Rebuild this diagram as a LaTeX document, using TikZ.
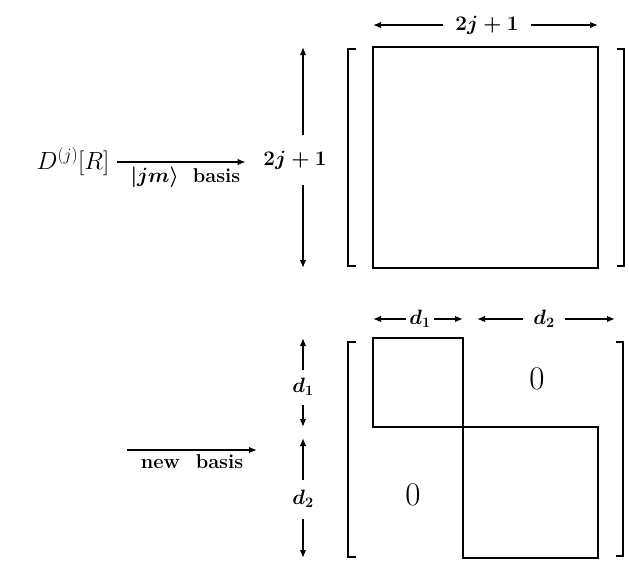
\documentclass[tikz,border=0pt]{standalone}
\usepackage{amsmath}
\usepackage{tikz}
\usetikzlibrary{arrows.meta,positioning,calc}

\begin{document}
\begin{tikzpicture}[
  x=1pt, y=-1pt,
  line width=1.5pt,
  blk/.style ={draw,line width=1.8pt,inner sep=0pt,outer sep=0pt},
  brk/.style ={line width=2.2pt},
  dim/.style ={font=\fontsize{20}{24}\selectfont\bfseries\boldmath,inner sep=2pt},
  lbl/.style ={font=\fontsize{20}{24}\selectfont\bfseries\boldmath,inner sep=2pt},
  zero/.style={font=\fontsize{33}{38}\selectfont,inner sep=0pt},
  >={Latex[length=8pt,width=6.5pt]}]
\useasboundingbox (0,0) rectangle (629,571);

%---------------- upper row : |jm> basis ----------------
\node[blk,minimum width=225pt,minimum height=221pt] (mat) at (485.5,157.5) {};
\draw[brk] ($(mat.north west)+(-17,2)$) -- ++(-8,0) |- ($(mat.south west)+(-17,-2)$);
\draw[brk] ($(mat.north east)+(19,2)$) -- ++(7,0) |- ($(mat.south east)+(19,-2)$);

\node[dim,inner xsep=12pt] (wtop) at (487,25) {$2j+1$};
\draw[->] (wtop.west) -- (wtop.west -| mat.west);
\draw[->] (wtop.east) -- (wtop.east -| mat.east);

\coordinate (hx) at (303,0);
\node[dim,inner ysep=15pt] (htop) at (295,160) {$2j+1$};
\draw[->] (htop.north -| hx) -- (mat.north -| hx);
\draw[->] (htop.south -| hx) -- (mat.south -| hx);

\node[font=\fontsize{26}{31}\selectfont,inner sep=0pt] (rep) at (73,162) {$D^{(j)}[R]$};
\draw[->,shorten <=7pt,shorten >=15pt] (rep.east) -- (rep.east -| htop.west)
  node[lbl,midway,below=2pt] {$|jm\rangle$\hspace{0.7em}basis};

%---------------- lower row : new basis ----------------
\node[blk,minimum width=90pt,minimum height=89pt] (blk1) at (418,382.5) {};
\node[blk,minimum width=135pt,minimum height=131pt,anchor=north west] (blk2) at (blk1.south east) {};
\draw[brk] ($(blk1.north west)+(-17,4)$) -- ++(-8,0) |- ($(blk1.west |- blk2.south)+(-17,-1)$);
\draw[brk] ($(blk2.east |- blk1.north)+(18,4)$) -- ++(7,0) |- ($(blk2.south east)+(18,-2)$);

\node[zero] (z12) at (537,379) {0};
\node[zero] (z21) at (413,495) {0};

% widths
\node[dim,inner xsep=3pt] (w1) at (420,319) {$d_1$};
\draw[->] (w1.west) -- (w1.west -| blk1.west);
\draw[->] (w1.east) -- (w1.east -| blk1.east);
\coordinate (d2L) at (477,319);
\coordinate (d2R) at (615,319);
\node[dim,inner xsep=10pt] (w2) at (544,319) {$d_2$};
\draw[->] (w2.west) -- (d2L);
\draw[->] (w2.east) -- (d2R);

% heights
\node[dim,inner ysep=8pt] (v1) at (303,387) {$d_1$};
\draw[->] (v1.north) -- (blk1.north -| v1);
\draw[->] (v1.south) -- (blk1.south -| v1);
\node[dim,inner ysep=10pt] (v2) at (303,499) {$d_2$};
\draw[->] (v2.north) -- ($(blk2.north -| v2)+(0,11)$);
\draw[->] (v2.south) -- (blk2.south -| v2);

\coordinate (nbS) at (127,450);
\coordinate (nbE) at (257,450);
\draw[->] (nbS) -- (nbE) node[lbl,midway,below=2pt] {new\hspace{0.8em}basis};

\end{tikzpicture}
\end{document}
